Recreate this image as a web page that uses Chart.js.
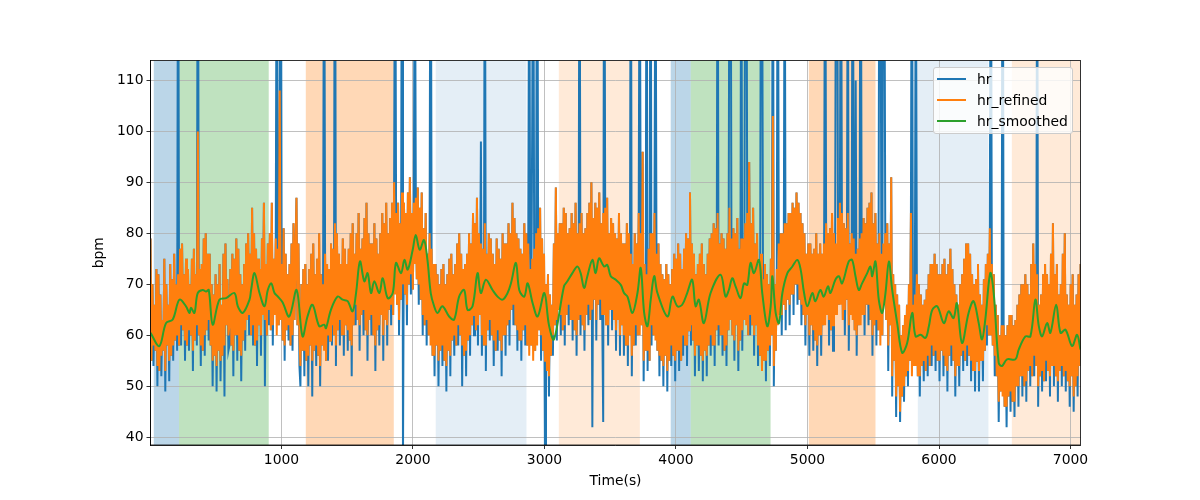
<!DOCTYPE html>
<html><head><meta charset="utf-8">
<script src="https://cdn.jsdelivr.net/npm/chart.js@4/dist/chart.umd.min.js"></script>
<style>
html,body{margin:0;padding:0;background:#fff;}
#wrap{position:relative;width:1200px;height:500px;}
#legend{position:absolute;left:932.5px;top:66.5px;width:140px;height:67px;box-sizing:border-box;border:1px solid #cccccc;border-radius:3px;background:rgba(255,255,255,0.8);font-family:"DejaVu Sans",sans-serif;font-size:13.9px;color:#000;padding:1px 0 0 3.5px;}
.row{display:flex;align-items:center;height:21px;white-space:nowrap;}
.sw{width:29px;height:2px;margin-right:11px;flex:none;}
</style></head>
<body><div id="wrap"><canvas id="c" width="1200" height="500"></canvas><div id="legend"></div></div>
<script>
const seriesNames = ['hr', 'hr_refined', 'hr_smoothed'];
const seriesColors = ['#1f77b4', '#ff7f0e', '#2ca02c'];
const T0 = 4, DT = 7.5; // sampling grid of hr / hr_refined (s)

const hr = [
79,55,70,54,66,57,73,50,72,53,68,52,63,57,75,49,70,58,66,51,74,56,71,55,76,59,70,57,160,58,77,58,78,61,72,55,75,58,73,57,
70,60,75,53,77,59,72,58,170,60,73,54,74,57,79,56,80,61,76,59,76,58,70,50,68,56,72,49,70,57,74,51,66,56,76,48,78,62,71,57,
58,73,58,76,52,75,60,79,55,77,57,72,51,70,59,74,57,78,63,80,60,76,60,85,58,80,58,77,54,75,62,73,56,79,64,86,50,74,60,78,
62,80,61,86,58,75,64,79,150,77,62,108,170,74,59,81,55,76,61,72,59,74,58,78,57,82,63,76,87,62,78,54,50,70,57,73,52,74,55,70,
50,73,58,76,48,78,57,72,54,75,56,80,50,72,58,70,160,76,55,74,55,73,59,78,58,77,60,180,54,80,61,76,58,74,60,79,56,77,62,74,
57,77,59,80,52,82,62,76,62,80,63,84,57,77,64,79,60,83,61,86,55,80,63,78,60,78,60,82,53,79,61,76,58,80,64,84,55,82,63,86,
58,80,65,83,62,86,64,90,160,84,66,86,60,82,67,170,36,86,68,84,62,88,70,91,68,84,69,86,150,87,71,89,66,85,67,88,60,81,62,84,
58,76,60,80,170,77,56,74,52,74,58,72,50,70,57,73,54,74,55,70,49,72,57,75,52,76,59,72,56,74,58,78,58,80,60,76,50,73,56,74,
52,76,59,80,56,78,62,84,60,82,61,87,58,80,64,98,56,77,58,160,53,76,61,80,59,79,60,76,54,74,57,79,57,77,59,75,52,80,60,78,
56,78,62,82,58,80,65,86,62,83,62,80,57,79,59,77,55,76,61,82,58,80,58,78,150,73,58,102,160,77,57,80,170,81,61,85,55,79,57,76,
35,70,53,72,48,68,56,66,56,78,62,89,59,80,65,82,60,82,61,85,58,84,64,80,62,81,63,84,59,82,61,86,56,80,63,160,60,84,62,80,
57,81,64,84,62,86,63,90,42,83,67,86,59,85,66,88,63,82,64,43,170,85,62,87,58,80,65,83,61,82,63,80,57,79,63,84,56,80,62,78,
56,78,58,82,54,80,60,160,52,74,58,80,58,78,60,84,150,80,62,96,51,74,57,160,53,77,55,170,58,80,60,84,150,76,57,78,52,74,55,72,
50,71,56,74,49,72,55,70,54,73,56,76,51,75,57,78,53,76,55,73,56,77,58,80,54,79,61,88,58,78,59,76,52,72,58,74,53,76,56,78,
51,74,57,72,52,76,58,79,56,80,58,82,54,81,61,160,58,78,60,80,56,79,57,77,54,80,61,150,170,79,60,81,55,80,62,83,53,77,59,160,
57,79,63,150,170,84,60,94,60,82,62,85,56,78,62,80,54,74,56,160,150,71,55,74,51,72,57,70,54,75,60,170,50,70,57,73,160,78,64,80,
60,80,66,150,61,82,67,84,62,84,68,86,64,85,70,88,66,86,67,84,62,82,64,80,58,76,64,78,56,78,62,76,57,77,59,80,54,76,60,78,
56,76,62,78,160,82,64,80,58,81,61,84,57,80,64,150,170,83,66,86,160,84,63,82,60,81,67,150,57,78,64,80,160,79,61,110,56,77,62,79,
170,80,64,83,60,82,66,85,62,86,63,88,56,82,62,84,58,78,61,150,160,76,60,170,150,78,63,82,53,78,62,91,48,72,55,70,44,68,50,66,
43,60,48,62,47,64,52,66,50,70,55,84,160,66,54,68,150,72,52,70,48,68,54,66,51,67,53,69,52,72,54,74,54,74,56,76,53,74,55,72,
51,72,57,74,52,75,54,72,49,74,56,77,54,73,55,70,48,68,54,66,50,70,56,72,53,75,55,78,54,78,56,76,51,72,53,70,49,71,55,74,
49,68,55,66,51,71,57,74,58,76,60,81,160,74,58,72,52,66,52,64,43,60,49,62,170,62,46,60,42,62,48,64,45,64,47,62,44,63,50,66,
46,68,52,70,48,70,50,72,47,70,53,68,50,74,52,78,52,74,54,150,46,66,52,68,49,72,51,74,51,72,53,70,48,76,54,82,50,72,52,74,
47,68,53,70,50,76,52,80,49,68,51,66,46,70,52,72,45,66,50,68,48,72,54,74,52,50
];

const hrRefined = [
79,55,70,58,66,57,73,54,72,53,68,56,63,57,75,53,70,58,66,55,74,56,71,58,76,59,70,60,72,58,77,62,78,61,72,59,75,58,73,61,
70,60,75,57,77,59,72,62,100,60,73,58,74,57,79,60,80,61,76,63,76,58,70,55,68,56,72,54,70,57,74,55,66,56,76,58,78,62,71,60,
62,73,58,76,57,75,60,79,60,77,57,72,56,70,59,74,61,78,63,80,64,76,60,85,62,80,58,77,59,75,62,73,60,79,64,86,63,74,60,78,
65,80,61,86,62,75,64,79,60,77,62,108,63,74,59,81,58,76,61,72,62,74,58,78,60,82,63,76,87,62,78,60,54,70,57,73,57,74,55,70,
56,73,58,76,55,78,57,72,58,75,56,80,54,72,58,70,57,76,55,74,60,73,59,78,62,77,60,82,58,80,61,76,63,74,60,79,60,77,62,74,
61,77,59,80,58,82,62,76,66,80,63,84,62,77,64,79,65,83,61,86,60,80,63,78,64,78,60,82,58,79,61,76,62,80,64,84,60,82,63,86,
62,80,65,83,66,86,64,90,68,84,66,86,63,82,67,88,70,86,68,84,66,88,70,91,72,84,69,86,74,87,71,89,70,85,67,88,64,81,62,84,
63,76,60,80,58,77,56,74,56,74,58,72,55,70,57,73,58,74,55,70,54,72,57,75,56,76,59,72,60,74,58,78,62,80,60,76,58,73,56,74,
57,76,59,80,60,78,62,84,64,82,61,87,62,80,64,78,60,77,58,82,58,76,61,80,63,79,60,76,59,74,57,79,61,77,59,75,57,80,60,78,
60,78,62,82,63,80,65,86,66,83,62,80,61,79,59,77,59,76,61,82,62,80,58,78,56,73,58,75,55,77,57,80,58,81,61,85,60,79,57,76,
55,70,53,72,52,68,56,66,60,78,62,89,63,80,65,82,64,82,61,85,62,84,64,80,66,81,63,84,63,82,61,86,60,80,63,82,64,84,62,80,
61,81,64,84,66,86,63,90,65,83,67,86,63,85,66,88,67,82,64,84,64,85,62,87,62,80,65,83,65,82,63,80,61,79,63,84,60,80,62,78,
60,78,58,82,58,80,60,76,56,74,58,80,62,78,60,84,60,80,62,96,55,74,57,72,57,77,55,80,62,80,60,84,59,76,57,78,56,74,55,72,
54,71,56,74,53,72,55,70,58,73,56,76,55,75,57,78,57,76,55,73,60,77,58,80,58,79,61,88,62,78,59,76,56,72,58,74,58,76,56,78,
55,74,57,72,56,76,58,79,60,80,58,82,58,81,61,84,62,78,60,80,60,79,57,77,58,80,61,85,63,79,60,81,59,80,62,83,57,77,59,79,
61,79,63,82,62,84,60,94,64,82,62,85,60,78,62,80,58,74,56,76,53,71,55,74,55,72,57,70,58,75,60,103,54,70,57,73,62,78,64,80,
64,80,66,82,65,82,67,84,66,84,68,86,68,85,70,88,70,86,67,84,66,82,64,80,62,76,64,78,60,78,62,76,61,77,59,80,58,76,60,78,
60,76,62,78,62,82,64,80,63,81,61,84,62,80,64,78,64,83,66,86,66,84,63,82,65,81,67,84,62,78,64,80,63,79,61,76,60,77,62,79,
62,80,64,83,64,82,66,85,66,86,63,88,60,82,62,84,63,78,61,80,58,76,60,78,66,80,63,82,58,78,62,91,52,72,55,70,48,68,50,66,
45,60,48,62,50,64,52,66,53,70,55,84,52,66,54,68,54,72,52,70,52,68,54,66,55,67,53,69,56,72,54,74,58,74,56,76,57,74,55,72,
55,72,57,74,56,75,54,72,53,74,56,77,58,73,55,70,52,68,54,66,54,70,56,72,57,75,55,78,58,78,56,76,55,72,53,70,53,71,55,74,
53,68,55,66,55,71,57,74,62,76,60,81,60,74,58,72,56,66,52,64,47,60,49,62,48,62,46,60,46,62,48,64,49,64,47,62,47,63,50,66,
50,68,52,70,52,70,50,72,51,70,53,68,54,74,52,78,56,74,54,72,50,66,52,68,53,72,51,74,55,72,53,70,52,76,54,82,54,72,52,74,
51,68,53,70,54,76,52,80,53,68,51,66,50,70,52,72,48,66,50,68,52,72,54,74,56,54
];

const smTime = [4,71,122,173,224,274,300,312,338,363,401,427,447,477,528,579,642,668,706,757,769,795,833,871,896,922,947,973,1008,
1059,1115,1160,1198,1236,1287,1325,1338,1376,1427,1465,1503,1541,1567,1597,1630,1655,1681,1706,1744,1770,1808,1846,1871,1909,1935,1960,1998,2021,
2051,2084,2110,2135,2161,2186,2224,2275,2313,2351,2389,2415,2453,2491,2516,2554,2605,2643,2681,2719,2745,2783,2808,2846,2872,2910,2948,2999,3034,
3072,3148,3174,3212,3250,3275,3301,3326,3364,3389,3415,3453,3478,3504,3542,3580,3605,3631,3669,3707,3732,3758,3783,3808,3834,3859,3935,3973,4011,4047,
4085,4123,4149,4174,4212,4263,4339,4377,4402,4428,4453,4491,4517,4542,4567,4593,4631,4656,4694,4720,4733,4758,4783,4809,4847,4885,4923,4948,4974,4999,5037,5060,
5098,5123,5156,5174,5212,5238,5263,5314,5339,5365,5390,5415,5454,5479,5492,5517,5542,5568,5593,5619,5644,5682,5720,5758,5796,5822,5860,5898,5923,5949,5987,6037,6073,
6111,6136,6175,6225,6263,6302,6327,6352,6390,6416,6454,6479,6517,6581,6606,6657,6695,6733,6759,6784,6822,6847,6891,6924,6962,7012,7050,7076];

const smVal = [60.5,57.9,62.4,63.1,67.0,65.7,64.4,65.4,64.4,68.3,68.9,68.6,68.9,62.1,67.0,67.3,68.3,65.7,64.4,67.0,68.9,72.2,68.3,65.7,68.9,70.2,68.3,67.6,66.5,
63.7,68.9,59.8,63.7,66.0,61.8,62.1,61.4,65.0,67.6,67.0,66.7,64.7,68.3,74.5,70.6,72.2,68.3,70.6,68.3,71.2,67.3,68.3,74.2,72.2,74.8,72.9,76.8,79.7,
76.8,78.7,74.8,68.3,65.7,64.4,65.7,63.7,63.1,67.6,68.9,65.0,65.7,72.2,68.3,70.9,68.9,67.6,67.0,68.3,70.2,74.2,68.9,67.6,70.2,66.3,63.7,68.3,62.0,
59.2,69.6,70.6,72.2,73.5,72.2,69.3,71.6,74.8,72.2,75.1,73.5,73.8,71.6,70.9,69.9,68.3,67.6,64.4,68.3,73.2,64.4,61.8,67.0,71.6,68.3,63.7,67.6,65.7,66.0,
68.3,70.9,65.7,67.0,62.4,68.3,71.9,67.6,68.9,71.2,69.6,67.3,70.2,69.9,74.2,72.2,74.8,68.3,61.8,65.7,71.6,64.4,62.4,68.3,72.2,73.5,74.8,72.9,68.3,65.7,68.3,66.7,
68.9,67.6,69.6,68.3,70.9,71.6,70.2,74.5,74.8,71.6,68.9,70.2,72.2,73.5,71.6,74.5,67.0,64.4,68.3,74.5,68.9,62.4,56.6,58.5,64.4,59.8,60.1,59.5,61.8,65.0,65.7,62.4,64.7,
63.4,66.3,58.5,64.4,66.7,62.4,59.2,63.1,72.2,68.3,54.6,54.0,55.3,55.3,57.2,59.8,59.8,67.0,61.8,59.8,62.4,60.5,66.0,60.5,61.1,57.9,60.1,57.2];

const spanStart = [29, 221, 1185, 2173, 3109, 3960, 4112, 5010, 5839, 6554];
const spanEnd   = [221, 903, 1854, 2863, 3725, 4112, 4719, 5517, 6376, 7076];
const spanColor = ['rgba(31,119,180,0.3)','rgba(44,160,44,0.3)','rgba(255,127,14,0.3)','rgba(31,119,180,0.12)','rgba(255,127,14,0.16)',
                   'rgba(31,119,180,0.3)','rgba(44,160,44,0.3)','rgba(255,127,14,0.3)','rgba(31,119,180,0.12)','rgba(255,127,14,0.16)'];

const xTicks = [1000, 2000, 3000, 4000, 5000, 6000, 7000];
const yTicks = [40, 50, 60, 70, 80, 90, 100, 110];
const X_MIN = 4, X_MAX = 7076, Y_MIN = 38.5, Y_MAX = 113.9;

const FONT = {family: "'DejaVu Sans', sans-serif", size: 13.9, lineHeight: 1.2};

const spanPlugin = {
  id: 'spans',
  beforeDraw(chart) {
    const {ctx, chartArea: a, scales: {x}} = chart;
    ctx.save();
    ctx.beginPath(); ctx.rect(a.left, a.top, a.right - a.left, a.bottom - a.top); ctx.clip();
    spanStart.forEach((s, i) => {
      const x0 = x.getPixelForValue(s), x1 = x.getPixelForValue(spanEnd[i]);
      ctx.fillStyle = spanColor[i];
      ctx.fillRect(x0, a.top, x1 - x0, a.bottom - a.top);
    });
    ctx.restore();
  }
};
const framePlugin = {
  id: 'frame',
  afterDatasetsDraw(chart) {
    const {ctx, chartArea: a} = chart;
    ctx.save();
    ctx.strokeStyle = '#000'; ctx.lineWidth = 0.8;
    ctx.strokeRect(a.left, a.top, a.right - a.left, a.bottom - a.top);
    ctx.restore();
  }
};

const dataHr = hr.map((v, i) => ({x: T0 + i * DT, y: v}));
const dataRef = hrRefined.map((v, i) => ({x: T0 + i * DT, y: v}));
const dataSm = smTime.map((t, i) => ({x: t, y: smVal[i]}));

const gridOpts = {color: '#b0b0b0', lineWidth: 0.8, tickColor: '#000', tickLength: 4, tickWidth: 0.8};

new Chart(document.getElementById('c'), {
  type: 'line',
  data: {
    datasets: [
      {label: seriesNames[0], data: dataHr, borderColor: seriesColors[0], borderWidth: 2, pointRadius: 0, tension: 0, order: 3, clip: 0},
      {label: seriesNames[1], data: dataRef, borderColor: seriesColors[1], borderWidth: 2, pointRadius: 0, tension: 0, order: 2, clip: 0},
      {label: seriesNames[2], data: dataSm, borderColor: seriesColors[2], borderWidth: 2, pointRadius: 0, tension: 0.35, order: 1, clip: 0}
    ]
  },
  options: {
    responsive: false, animation: false, devicePixelRatio: 1,
    layout: {padding: {left: 0, top: 60.5, right: 119.5, bottom: 0}},
    plugins: {legend: {display: false}, tooltip: {enabled: false}},
    scales: {
      x: {
        type: 'linear', min: X_MIN, max: X_MAX,
        afterBuildTicks: s => { s.ticks = xTicks.map(v => ({value: v})); },
        afterFit: s => { s.height = 55; },
        grid: gridOpts, border: {color: '#000', width: 0.8},
        ticks: {font: FONT, color: '#000', padding: 3, maxRotation: 0, autoSkip: false, callback: v => String(v)},
        title: {display: true, text: 'Time(s)', font: FONT, color: '#000', padding: {top: 0, bottom: 10.5}}
      },
      y: {
        type: 'linear', min: Y_MIN, max: Y_MAX,
        afterBuildTicks: s => { s.ticks = yTicks.map(v => ({value: v})); },
        afterFit: s => { s.width = 150.5; },
        grid: gridOpts, border: {color: '#000', width: 0.8},
        ticks: {font: FONT, color: '#000', padding: 3, autoSkip: false, callback: v => String(v)},
        title: {display: true, text: 'bpm', font: FONT, color: '#000', padding: {top: 91.5, bottom: 0}}
      }
    }
  },
  plugins: [spanPlugin, framePlugin]
});

const legend = document.getElementById('legend');
seriesNames.forEach((n, i) => {
  const row = document.createElement('div'); row.className = 'row';
  const sw = document.createElement('span'); sw.className = 'sw'; sw.style.background = seriesColors[i];
  const tx = document.createElement('span'); tx.textContent = n;
  row.appendChild(sw); row.appendChild(tx); legend.appendChild(row);
});
</script>
</body></html>
